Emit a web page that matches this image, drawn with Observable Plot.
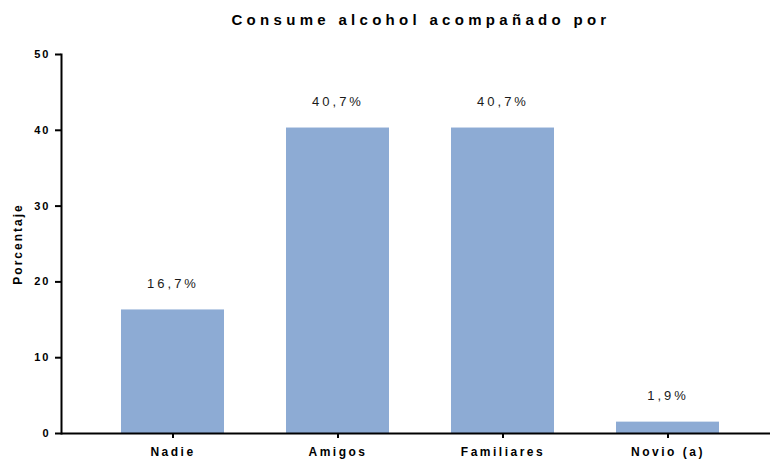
<!DOCTYPE html>
<html>
<head>
<meta charset="utf-8">
<script src="https://cdn.jsdelivr.net/npm/d3@7"></script>
<script src="https://cdn.jsdelivr.net/npm/@observablehq/plot@0.6"></script>
<style>
  body { margin: 0; background: #fff; font-family: "Liberation Sans", Arial, sans-serif; }
  #title { height: 40px; box-sizing: border-box; padding-top: 11px; padding-left: 72px; width: 770px; text-align: center;
           font-size: 15px; font-weight: bold; letter-spacing: 4.3px; color: #000; line-height: 17px; }
  svg [aria-label="y-axis tick label"] text { letter-spacing: 2px; }
  svg [aria-label="x-axis tick label"] text { letter-spacing: 2.5px; }
  svg [aria-label="y-axis label"] text { letter-spacing: 2px; }
  svg [aria-label="text"] text { letter-spacing: 3px; }
  svg [aria-label="y-axis tick"], svg [aria-label="x-axis tick"] { stroke-width: 2px; }
</style>
</head>
<body>
<div id="title">Consume alcohol acompañado por</div>
<div id="chart"></div>
<script>
const categories = ["Nadie", "Amigos", "Familiares", "Novio (a)"];
const values = [16.3, 40.3, 40.3, 1.5];
const labels = ["16,7%", "40,7%", "40,7%", "1,9%"];
const yTicks = [0, 10, 20, 30, 40, 50];

const data = categories.map((c, i) => ({category: c, value: values[i], label: labels[i]}));

const chart = Plot.plot({
  width: 770,
  height: 419,
  marginTop: 14,
  marginBottom: 26,
  marginLeft: 61,
  marginRight: 0,
  style: {fontFamily: "Liberation Sans, Arial, sans-serif", background: "#fff", color: "#000"},
  x: {domain: categories, range: [120, 719], paddingInner: 0.376, paddingOuter: 0},
  y: {domain: [0, 50]},
  marks: [
    Plot.barY(data, {x: "category", y: "value", fill: "#8dabd4"}),
    Plot.text(data, {x: "category", y: "value", text: "label", dy: -22, lineAnchor: "bottom", fontSize: 13, fill: "#1a1a1a"}),
    Plot.axisY({ticks: yTicks, tickFormat: d3.format("d"), tickSize: 6, tickPadding: 5, strokeWidth: 2, fontSize: 11, fontWeight: "bold",
                label: "Porcentaje", labelAnchor: "center", labelOffset: 48, labelArrow: "none"}),
    Plot.axisX({tickSize: 5, tickPadding: 9, strokeWidth: 2, fontSize: 12, fontWeight: "bold", label: null}),
    Plot.frame({anchor: "left", strokeWidth: 2, stroke: "#000"}),
    Plot.ruleY([0], {strokeWidth: 2, stroke: "#000"})
  ]
});
document.getElementById("chart").appendChild(chart);
d3.select(chart).selectAll('[aria-label="y-axis label"] text').style("font-weight", "bold").style("font-size", "12px");
</script>
</body>
</html>
